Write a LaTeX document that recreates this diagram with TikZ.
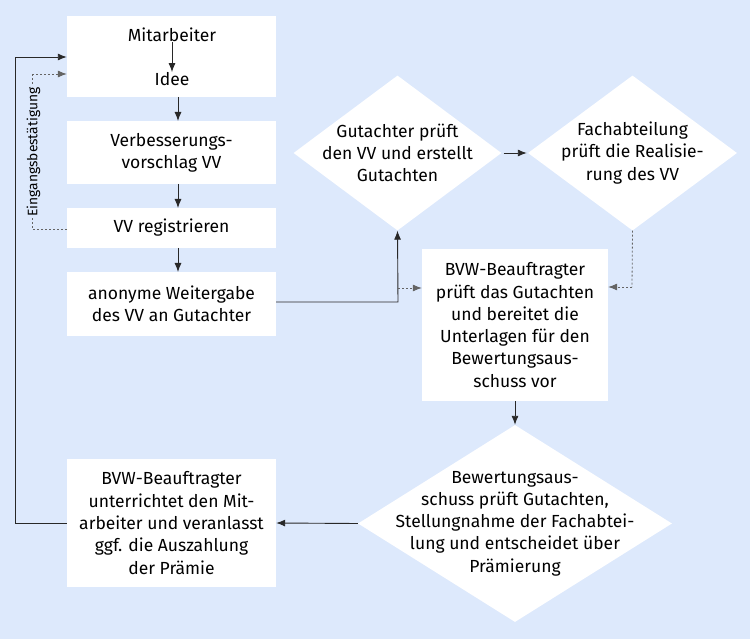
\documentclass[tikz,border=0pt]{standalone}
\usepackage{fontspec}
\setmainfont{Fira Sans}
\usetikzlibrary{shapes.geometric,arrows.meta,calc}
\definecolor{bg}{RGB}{221,233,252}
\definecolor{ln}{RGB}{40,40,40}
\definecolor{dl}{RGB}{100,100,100}
\begin{document}
\begin{tikzpicture}[x=1pt,y=-1pt,
  font=\fontsize{17.5}{22.3}\selectfont,
  box/.style={fill=white,draw=none,inner sep=0pt,align=center},
  dia/.style={diamond,fill=white,draw=none,inner sep=0pt,aspect=1},
  txt/.style={align=center,inner sep=0pt},
  arr/.style={draw=ln,line width=0.9pt,-{Latex[length=9pt,width=7pt]}},
  darr/.style={draw=dl,line width=0.8pt,dash pattern=on 2pt off 2pt,-{Latex[length=9pt,width=7pt]}},
  dl/.style={draw=dl,line width=0.8pt,dash pattern=on 2pt off 2pt}]
\fill[bg] (0,0) rectangle (750,639);
\useasboundingbox (0,0) rectangle (750,639);
% left column
\node[box,minimum width=209pt,minimum height=81pt] (b1) at (171.5,56.5) {};
\node[txt] (mit) at (172,35) {Mitarbeiter};
\node[txt] (idee) at (172,79) {Idee};
\node[box,minimum width=209pt,minimum height=63pt] (b2) at (171.5,152.5) {Verbesserungs-\\vorschlag VV};
\node[box,minimum width=209pt,minimum height=40pt] (b3) at (171.5,228) {VV registrieren};
\node[box,minimum width=209pt,minimum height=64pt] (b4) at (171.5,304) {anonyme Weitergabe\\des VV an Gutachter};
\node[box,minimum width=209pt,minimum height=128pt] (b5) at (171.5,523) {BVW-Beauftragter\\unterrichtet den Mit-\\arbeiter und veranlasst\\ggf. die Auszahlung\\der Prämie};
% right
\node[dia,minimum width=208pt,minimum height=155pt] (d1) at (397.5,153) {};
\node[txt] at (d1) {Gutachter prüft\\den VV und erstellt\\Gutachten};
\node[dia,minimum width=209pt,minimum height=155pt] (d2) at (632.5,153) {};
\node[txt] at (d2) {Fachabteilung\\prüft die Realisie-\\rung des VV};
\node[box,minimum width=186pt,minimum height=152pt] (bv) at (515,325) {BVW-Beauftragter\\prüft das Gutachten\\und bereitet die\\Unterlagen für den\\Bewertungsaus-\\schuss vor};
\node[dia,minimum width=314pt,minimum height=197pt] (d3) at (515,523.5) {};
\node[txt] at (d3) {Bewertungsaus-\\schuss prüft Gutachten,\\Stellungnahme der Fachabtei-\\lung und entscheidet über\\Prämierung};
% connectors
\draw[arr] (mit.south) -- (idee.north);
\draw[arr] (178,97) -- (178,121);
\draw[arr] (178,184) -- (178,208);
\draw[arr] (178,248) -- (178,272);
\coordinate (c1) at (398,302);
\draw[arr] (b4.east |- c1) -- (c1) -- (d1.south);
\coordinate (c2) at (398,288);
\draw[darr] (c2) -- (bv.west |- c2);
\draw[arr] ($(d1.east)+(2,0)$) -- ($(d2.west)+(-1,0)$);
\coordinate (c3) at (632,287);
\draw[dl] (d2.south) -- (c3);
\draw[darr] (c3) -- (bv.east |- c3);
\draw[arr] (bv.south) -- (d3.north);
\draw[arr] (d3.west) -- (b5.east);
\coordinate (l1) at (15,523);
\coordinate (l2) at (15,57);
\draw[arr] (b5.west) -- (l1) -- (l2) -- (b1.west |- l2);
\coordinate (e1) at (32,229);
\coordinate (e2) at (32,74);
\draw[dl] (b3.west |- e1) -- (e1) -- (e2);
\draw[darr] (e2) -- (b1.west |- e2);
\node[fill=bg,inner sep=1pt,rotate=90,font=\fontsize{13.8}{16}\selectfont] (eb) at (33.5,152) {Eingangsbestätigung};
\end{tikzpicture}
\end{document}
